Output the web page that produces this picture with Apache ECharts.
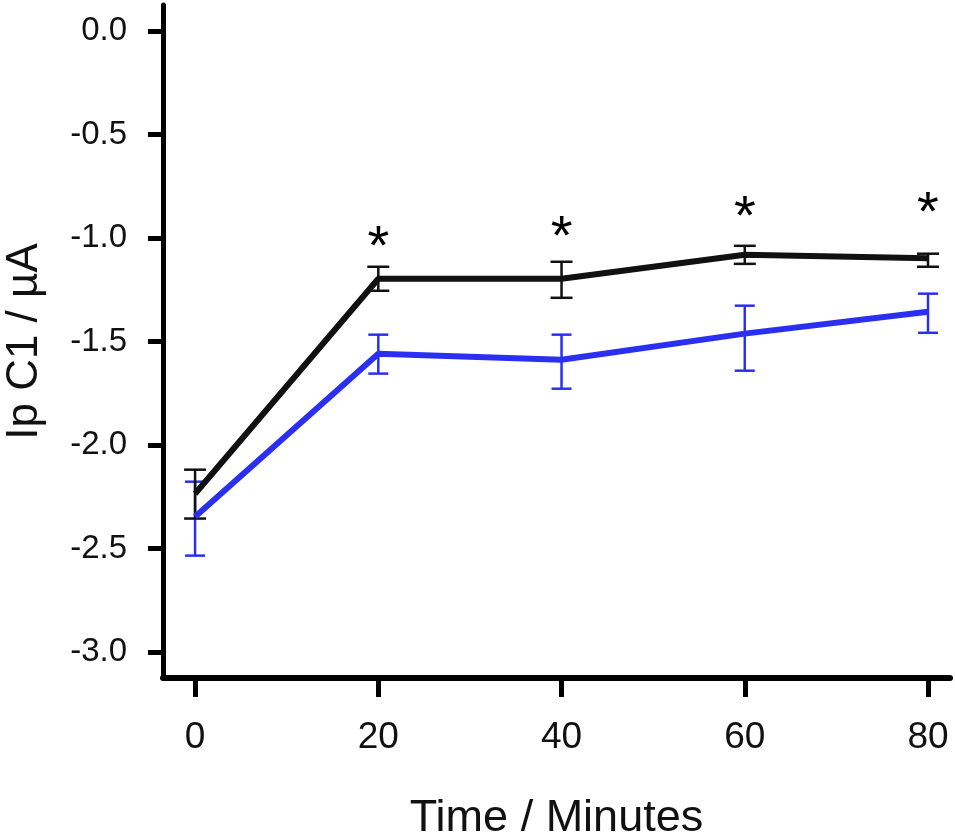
<!DOCTYPE html>
<html>
<head>
<meta charset="utf-8">
<script src="https://cdn.jsdelivr.net/npm/echarts@6/dist/echarts.min.js"></script>
<style>
  html, body { margin: 0; padding: 0; background: #fff; }
  #chart { width: 955px; height: 835px; }
</style>
</head>
<body>
<div id="chart"></div>
<script>
// 数据
var times = [0, 20, 40, 60, 80];
var blackMean = [-2.235, -1.197, -1.197, -1.081, -1.098];
var blackLow = [-2.355, -1.255, -1.289, -1.125, -1.139];
var blackHigh = [-2.119, -1.139, -1.115, -1.038, -1.076];
var blueMean = [-2.346, -1.559, -1.588, -1.462, -1.356];
var blueLow = [-2.534, -1.655, -1.728, -1.641, -1.458];
var blueHigh = [-2.177, -1.467, -1.467, -1.327, -1.269];
var starTimes = [20, 40, 60, 80];
var starY = [-0.994, -0.946, -0.849, -0.830];
var yTicks = [0, -0.5, -1.0, -1.5, -2.0, -2.5, -3.0];
var xTicks = [0, 20, 40, 60, 80];

var black = '#111111';
var blue = '#2b2ff2';

function pairs(xs, ys) {
  return xs.map(function (x, i) { return [x, ys[i]]; });
}
function errData(xs, lo, hi) {
  return xs.map(function (x, i) { return [x, lo[i], hi[i]]; });
}

// 误差线
function errorBars(color, capHalf) {
  return function (params, api) {
    var x = api.value(0);
    var lo = api.coord([x, api.value(1)]);
    var hi = api.coord([x, api.value(2)]);
    var st = { stroke: color, lineWidth: 2.5 };
    return {
      type: 'group',
      children: [
        { type: 'line', shape: { x1: lo[0], y1: lo[1], x2: hi[0], y2: hi[1] }, style: st },
        { type: 'line', shape: { x1: lo[0] - capHalf, y1: lo[1], x2: lo[0] + capHalf, y2: lo[1] }, style: st },
        { type: 'line', shape: { x1: hi[0] - capHalf, y1: hi[1], x2: hi[0] + capHalf, y2: hi[1] }, style: st }
      ]
    };
  };
}

var myChart = echarts.init(document.getElementById('chart'));
var option = {
  animation: false,
  grid: { left: 163, right: 5, top: 5, bottom: 157, containLabel: false, outerBoundsMode: 'none' },
  xAxis: {
    type: 'value',
    min: -3.5,
    max: 82.4,
    name: 'Time / Minutes',
    nameLocation: 'middle',
    nameGap: 118,
    nameTextStyle: { fontFamily: 'Liberation Sans', fontSize: 45, color: '#111' },
    axisLine: { show: true, onZero: false, lineStyle: { color: '#000', width: 6 } },
    axisTick: { show: true, inside: false, length: 19, lineStyle: { color: '#000', width: 5 }, customValues: xTicks },
    axisLabel: { fontFamily: 'Liberation Sans', fontSize: 37, color: '#111', margin: 41, customValues: xTicks },
    splitLine: { show: false }
  },
  yAxis: {
    type: 'value',
    min: -3.125,
    max: 0.125,
    name: 'Ip C1 / µA',
    nameLocation: 'middle',
    nameGap: 116,
    nameTextStyle: { fontFamily: 'Liberation Sans', fontSize: 44, color: '#111' },
    axisLine: { show: true, onZero: false, lineStyle: { color: '#000', width: 5 } },
    axisTick: { show: true, inside: false, length: 15, lineStyle: { color: '#000', width: 5 }, customValues: yTicks },
    axisLabel: {
      fontFamily: 'Liberation Sans', fontSize: 33, color: '#111', margin: 36,
      customValues: yTicks,
      formatter: function (v) { return v.toFixed(1); }
    },
    splitLine: { show: false }
  },
  series: [
    {
      type: 'custom',
      renderItem: errorBars(blue, 10),
      data: errData(times, blueLow, blueHigh),
      z: 3
    },
    {
      type: 'custom',
      renderItem: errorBars(black, 11),
      data: errData(times, blackLow, blackHigh),
      z: 4
    },
    {
      type: 'line',
      data: pairs(times, blueMean),
      symbol: 'none',
      lineStyle: { color: blue, width: 6 },
      z: 5
    },
    {
      type: 'line',
      data: pairs(times, blackMean),
      symbol: 'none',
      lineStyle: { color: black, width: 6 },
      z: 6
    },
    {
      type: 'scatter',
      data: pairs(starTimes, starY),
      symbolSize: 1,
      itemStyle: { color: 'rgba(0,0,0,0)' },
      label: {
        show: true,
        position: 'inside',
        formatter: '*',
        fontFamily: 'Liberation Sans',
        fontSize: 56,
        color: '#000',
        opacity: 1,
        offset: [0, 12]
      },
      z: 7
    }
  ]
};
myChart.setOption(option);
window.addEventListener('resize', function () {
  myChart.resize();
});
</script>
</body>
</html>
